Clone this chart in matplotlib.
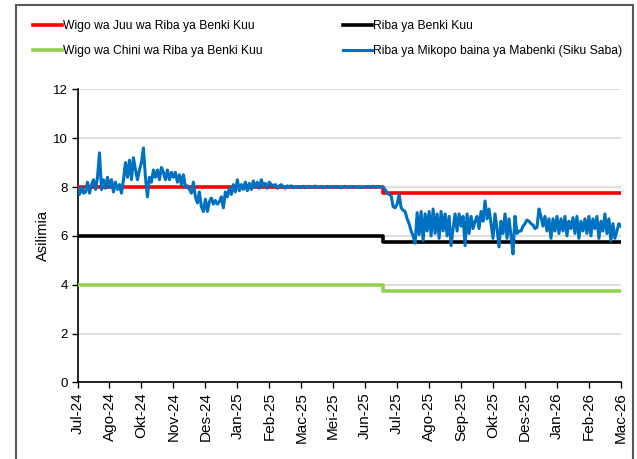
import matplotlib
matplotlib.use("Agg")
import matplotlib.pyplot as plt
from matplotlib.patches import Rectangle

# --- data ---
month_labels = ["Jul-24", "Ago-24", "Okt-24", "Nov-24", "Des-24", "Jan-25", "Feb-25",
                "Mac-25", "Mei-25", "Jun-25", "Jul-25", "Ago-25", "Sep-25", "Okt-25",
                "Des-25", "Jan-26", "Feb-26", "Mac-26"]
obs_per_label = 16

# riba ya mikopo baina ya mabenki (siku saba), 16 obs per label interval
interbank = [
    7.9, 7.7, 8.0, 7.75, 7.8, 8.2, 7.75, 8.1, 8.3, 7.9, 8.4, 9.4, 7.9, 8.3, 7.95, 8.4,
    8.0, 8.3, 7.8, 8.2, 7.9, 8.1, 7.75, 8.3, 9.0, 8.4, 9.1, 8.3, 9.2, 8.7, 8.3, 8.7,
    9.0, 9.6, 8.4, 7.6, 8.4, 8.2, 8.7, 8.4, 8.7, 8.3, 8.8, 8.6, 8.3, 8.7, 8.3, 8.6,
    8.4, 8.6, 8.2, 8.5, 8.1, 8.5, 8.0, 8.05, 7.9, 7.75, 8.2, 7.6, 7.35, 7.8, 7.2, 7.0,
    7.5, 7.0, 7.4, 7.55, 7.3, 7.45, 7.3, 7.4, 7.6, 7.15, 7.8, 7.6, 7.95, 7.7, 8.1, 7.8,
    8.3, 7.85, 8.1, 7.9, 8.2, 7.85, 8.15, 7.9, 8.25, 8.0, 8.2, 7.95, 8.3, 8.05, 8.15, 7.95,
    8.2, 8.1, 8.05, 8.1, 7.95, 8.05, 8.1, 8.0, 7.95, 8.05, 8.0, 8.05, 7.97, 8.0, 8.02, 7.98,
    8.0, 8.03, 7.97, 8.0, 8.02, 7.99, 8.0, 8.04, 7.98, 8.0, 8.01, 7.97, 8.0, 8.03, 7.99, 8.0,
    8.0, 7.98, 8.02, 8.0, 7.97, 8.01, 8.03, 8.0, 7.98, 8.0, 8.02, 7.99, 8.0, 8.01, 7.98, 8.0,
    8.0, 8.02, 8.0, 7.99, 8.03, 8.0, 8.0, 8.02, 8.0, 7.97, 7.9, 7.75, 7.7, 7.65, 7.2, 7.15,
    7.3, 7.7, 7.15, 7.05, 7.0, 6.7, 6.5, 6.2, 6.0, 5.7, 6.95, 6.05, 7.0, 5.8, 6.9, 6.2,
    7.0, 6.0, 7.1, 6.1, 6.9, 5.9, 7.0, 6.2, 6.9, 6.0, 6.8, 5.6, 6.3, 6.9, 6.2, 6.9,
    6.4, 6.8, 5.6, 6.9, 6.1, 6.8, 6.3, 6.6, 6.8, 6.3, 7.0, 6.6, 7.43, 6.7, 7.1, 6.5,
    5.9, 6.9, 6.3, 5.55, 6.6, 6.1, 6.9, 5.9, 6.7, 6.0, 5.26, 6.8, 6.1, 6.2, 6.2, 6.4,
    6.5, 6.65, 6.6, 6.5, 6.45, 6.3, 6.35, 7.1, 6.8, 6.4, 6.8, 6.2, 6.7, 5.9, 6.7, 6.2,
    6.8, 6.1, 6.7, 6.2, 6.8, 6.0, 6.6, 6.3, 6.75, 6.1, 6.8, 5.9, 6.6, 6.2, 6.7, 6.1,
    6.8, 6.0, 6.7, 6.3, 6.8, 5.9, 6.6, 6.2, 6.9, 6.1, 6.7, 5.8, 6.5, 5.9, 6.2, 6.5,
    6.4,
]

# riba ya benki kuu (CBR) na wigo wake: 6.00 -> 5.75 mwezi Julai 2025
cbr_levels = [6.0, 5.75]
upper_levels = [8.0, 7.75]
lower_levels = [4.0, 3.75]
cbr_change_obs = 153

n_obs = len(interbank)
x = list(range(n_obs))
cbr = [cbr_levels[0]] * cbr_change_obs + [cbr_levels[1]] * (n_obs - cbr_change_obs)
upper = [upper_levels[0]] * cbr_change_obs + [upper_levels[1]] * (n_obs - cbr_change_obs)
lower = [lower_levels[0]] * cbr_change_obs + [lower_levels[1]] * (n_obs - cbr_change_obs)

plt.rcParams['font.family'] = ['Liberation Sans', 'DejaVu Sans']

fig = plt.figure(figsize=(6.37, 4.59), dpi=100)
ax = fig.add_axes([0.1217, 0.1667, 0.853, 0.6387])

l_up, = ax.plot(x, upper, color='#ff0000', lw=2.6, drawstyle='steps-post',
                label='Wigo wa Juu wa Riba ya Benki Kuu', zorder=3)
l_cbr, = ax.plot(x, cbr, color='#000000', lw=2.6, drawstyle='steps-post',
                 label='Riba ya Benki Kuu', zorder=3)
l_lo, = ax.plot(x, lower, color='#92d050', lw=2.6, drawstyle='steps-post',
                label='Wigo wa Chini wa Riba ya Benki Kuu', zorder=3)
l_ib, = ax.plot(x, interbank, color='#0070c0', lw=2.2,
                label='Riba ya Mikopo baina ya Mabenki (Siku Saba)', zorder=4)

ax.set_xlim(0, n_obs - 1)
ax.set_ylim(0, 12)
ax.set_yticks(range(0, 13, 2))
ax.set_xticks(range(0, n_obs, obs_per_label))
ax.set_xticklabels(month_labels, rotation=90, fontsize=11)
ax.tick_params(axis='y', labelsize=9.5, length=4, width=1, direction='out', pad=3)
ax.tick_params(axis='x', length=4, width=1, direction='out', pad=3)
ax.yaxis.grid(True, color='#d9d9d9', lw=1.2)
ax.set_axisbelow(True)
for s in ['top', 'right']:
    ax.spines[s].set_visible(False)
for s in ['left', 'bottom']:
    ax.spines[s].set_linewidth(1.2)
ax.set_ylabel('Asilimia', fontsize=10.5, labelpad=2)

# column-major order so rows read red/black then green/blue
handles = [l_up, l_lo, l_cbr, l_ib]
fig.legend(handles, [h.get_label() for h in handles], loc='upper left',
           bbox_to_anchor=(33 / 637, 1 - 20 / 459), ncol=2,
           frameon=False, fontsize=8.7, handlelength=2.4, handletextpad=0.1,
           columnspacing=6.6, labelspacing=1.1, borderpad=0, borderaxespad=0)

fig.patches.append(Rectangle((16 / 637, -0.01), (633 - 16) / 637, (459 - 5) / 459 + 0.01,
                             transform=fig.transFigure, fill=False,
                             edgecolor='#595959', lw=1.5))

fig.savefig('out.png', dpi=100)
